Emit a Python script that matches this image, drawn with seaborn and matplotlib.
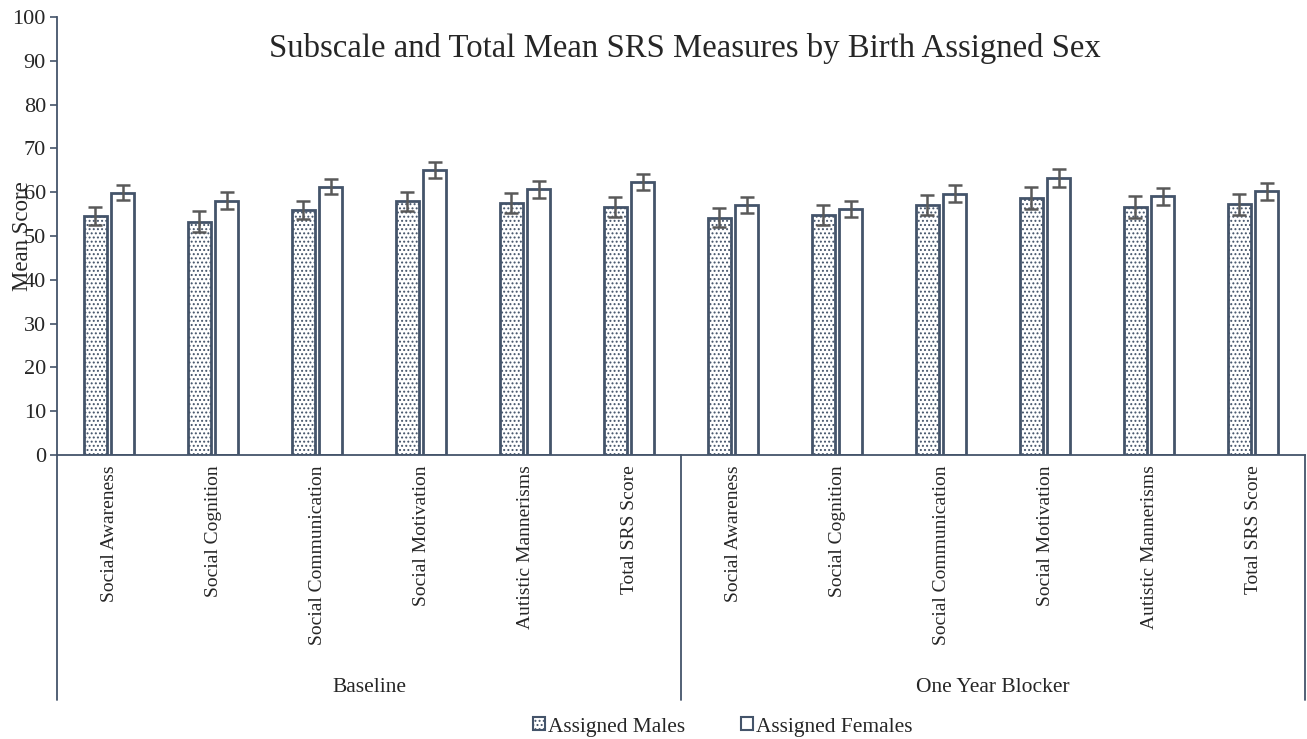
import matplotlib
matplotlib.use("Agg")
import matplotlib.pyplot as plt
import matplotlib.transforms as mtransforms
from matplotlib.patches import Patch
import numpy as np
import pandas as pd
import seaborn as sns

# ---- data -------------------------------------------------------------
timepoints = ["Baseline", "One Year Blocker"]
subscales = ["Social Awareness", "Social Cognition", "Social Communication",
             "Social Motivation", "Autistic Mannerisms", "Total SRS Score"]
sexes = ["Assigned Males", "Assigned Females"]

male_means = [54.6, 53.3, 56.0, 57.9, 57.5, 56.7,
              54.2, 54.8, 57.1, 58.7, 56.6, 57.3]
female_means = [59.9, 58.1, 61.3, 65.1, 60.7, 62.4,
                57.1, 56.2, 59.7, 63.2, 59.1, 60.2]
male_err = [2.1, 2.3, 2.1, 2.2, 2.35, 2.3,
            2.15, 2.25, 2.3, 2.6, 2.45, 2.4]
female_err = [1.7, 1.9, 1.75, 1.8, 1.95, 1.85,
              1.8, 1.8, 1.85, 2.0, 1.95, 1.9]

# ---- long table ---------------------------------------------------------
rows = []
slots = []
for t_i, tp in enumerate(timepoints):
    for s_i, sc in enumerate(subscales):
        slot = f"{tp} | {sc}"
        slots.append(slot)
        k = t_i * len(subscales) + s_i
        rows.append(dict(slot=slot, sex=sexes[0], mean=male_means[k], err=male_err[k]))
        rows.append(dict(slot=slot, sex=sexes[1], mean=female_means[k], err=female_err[k]))
df = pd.DataFrame(rows)

# ---- style --------------------------------------------------------------
sns.set_style("white")
plt.rcParams["font.family"] = ["Liberation Serif", "DejaVu Serif"]
plt.rcParams["hatch.color"] = "#5a5a5a"
plt.rcParams["hatch.linewidth"] = 0.9

axis_col = "#44546A"
err_col = "#595959"

fig = plt.figure(figsize=(13.07, 7.39), dpi=100)
ax = fig.add_axes([57 / 1307, 1 - 455 / 739, 1 - 57 / 1307 - 2 / 1307, (455 - 17) / 739])

sns.barplot(data=df, x="slot", y="mean", hue="sex", order=slots, hue_order=sexes,
            palette=["white", "white"], width=0.52, gap=0.13, errorbar=None,
            edgecolor=axis_col, linewidth=2.0, legend=False, ax=ax)

# hatch the male bars, add error bars at each bar's centre
for container, sex in zip(ax.containers, sexes):
    sub = df[df["sex"] == sex].set_index("slot").loc[slots]
    xs = [p.get_x() + p.get_width() / 2 for p in container.patches]
    if sex == sexes[0]:
        for p in container.patches:
            p.set_hatch("....")
    ax.errorbar(xs, sub["mean"].values, yerr=sub["err"].values, fmt="none",
                ecolor=err_col, elinewidth=1.8, capsize=5, capthick=1.8, zorder=5)

ax.set_xlim(-0.5, len(slots) - 0.5)
ax.set_ylim(0, 100)
ax.set_yticks(np.arange(0, 101, 10))
ax.tick_params(axis="y", which="major", left=True, length=5, width=1.2,
               color=axis_col, labelsize=16, pad=3)
ax.set_xticks(range(len(slots)))
ax.set_xticklabels(subscales * len(timepoints), rotation=90, fontsize=14,
                   va="top", ha="center")
ax.tick_params(axis="x", bottom=False, pad=4)
ax.set_xlabel("")
ax.set_ylabel("")

for side in ["top", "right"]:
    ax.spines[side].set_visible(False)
for side in ["left", "bottom"]:
    ax.spines[side].set_color(axis_col)
    ax.spines[side].set_linewidth(1.3)

# group separators below the axis and group labels
trans = mtransforms.blended_transform_factory(ax.transData, ax.transAxes)
sep_bottom = -(700 - 455) / (455 - 17)
for xb in [-0.5, 5.5, 11.5]:
    ax.plot([xb, xb], [0, sep_bottom], transform=trans, color=axis_col,
            lw=1.3, clip_on=False)
label_y = -(688 - 455) / (455 - 17)
for g_i, tp in enumerate(timepoints):
    ax.text(g_i * 6 + 2.5, label_y, tp, transform=trans, ha="center",
            va="center", fontsize=15.5)

fig.text(685 / 1307, 1 - 48 / 739, "Subscale and Total Mean SRS Measures by Birth Assigned Sex",
         ha="center", va="center", fontsize=23.6)
fig.text(23 / 1307, 1 - 236 / 739, "Mean Score", rotation=90, ha="center",
         va="center", fontsize=16.5)

handles = [Patch(facecolor="white", edgecolor=axis_col, hatch="....", linewidth=1.5),
           Patch(facecolor="white", edgecolor=axis_col, linewidth=1.5)]
fig.legend(handles, sexes, loc="center", bbox_to_anchor=(723 / 1307, 1 - 727 / 739),
           ncol=2, frameon=False, fontsize=15.4, handlelength=0.55, handleheight=0.55,
           handletextpad=0.15, columnspacing=2.6)

fig.savefig("out.png", dpi=100)
